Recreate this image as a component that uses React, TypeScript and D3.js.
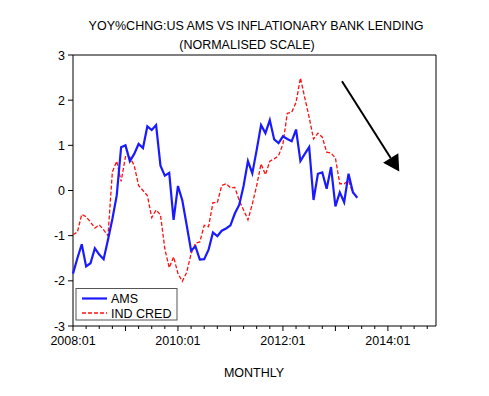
import React from 'react';
import * as d3 from 'd3';

const W = 489;
const H = 396;

// monthly series, first obs 2008:01
const amsValues = [
  -1.84, -1.5, -1.19, -1.68, -1.61, -1.28, -1.42, -1.52, -1.09, -0.63, -0.11, 0.96,
  1.0, 0.65, 0.81, 1.03, 0.94, 1.42, 1.34, 1.45, 0.55, 0.33, 0.39, -0.65,
  0.1, -0.22, -0.77, -1.33, -1.24, -1.53, -1.52, -1.31, -0.93, -1.01, -0.89, -0.84,
  -0.77, -0.51, -0.32, 0.1, 0.65, 0.38, 0.9, 1.45, 1.27, 1.56, 1.13, 1.05,
  1.2, 1.14, 1.09, 1.35, 0.65, 0.81, 0.96, -0.21, 0.37, 0.4, 0.04, 0.52,
  -0.35, -0.04, -0.26, 0.37, -0.04, -0.16,
];

const indCredValues = [
  -0.98, -0.92, -0.53, -0.58, -0.7, -0.83, -0.76, -0.87, -1.0, 0.41, 0.65, 0.2,
  0.75, 0.74, 0.55, 0.11, 0.0, -0.11, -0.6, -0.43, -0.54, -1.29, -1.71, -1.47,
  -1.84, -2.01, -1.81, -1.4, -1.17, -1.14, -0.77, -0.8, -0.27, -0.27, 0.11, 0.15,
  0.06, 0.07, -0.22, -0.43, -0.65, -0.3, 0.11, 0.59, 0.35, 0.65, 0.7, 0.77,
  1.03, 1.71, 1.73, 1.95, 2.49, 2.05, 1.62, 1.14, 1.27, 1.18, 0.85, 0.83,
  0.72, 0.15, 0.15, 0.22, -0.06,
];

const yTicks = [3, 2, 1, 0, -1, -2, -3];
const xTickLabels = ['2008:01', '2010:01', '2012:01', '2014:01'];
const xTickIndex = [0, 24, 48, 72];
const seriesNames = ['AMS', 'IND CRED'];

// arrow annotation, in data units (month index, value)
const arrowFrom = [61.5, 2.42];
const arrowTo = [74.6, 0.42];

const FONT = "'Liberation Sans', Arial, sans-serif";
const BLUE = '#1a1aff';
const RED = '#ff1010';

export default function App() {
  const x = d3.scaleLinear().domain([0, 83]).range([73, 436]);
  const y = d3.scaleLinear().domain([-3, 3]).range([326, 55]);

  const line = d3
    .line<number>()
    .x((_, i) => x(i))
    .y((d) => y(d));

  const minor = d3.range(0, 84, 3);

  const ax0 = x(arrowFrom[0]);
  const ay0 = y(arrowFrom[1]);
  const ax1 = x(arrowTo[0]);
  const ay1 = y(arrowTo[1]);
  const ang = Math.atan2(ay1 - ay0, ax1 - ax0);
  const headLen = 16;
  const headW = 9;
  const bx = ax1 - headLen * Math.cos(ang);
  const by = ay1 - headLen * Math.sin(ang);
  const head = [
    [ax1, ay1],
    [bx + headW * Math.sin(ang), by - headW * Math.cos(ang)],
    [bx - headW * Math.sin(ang), by + headW * Math.cos(ang)],
  ];

  return (
    <svg
      width={W}
      height={H}
      style={{ position: 'absolute', left: 0, top: 0, background: '#fff' }}
      fontFamily={FONT}
    >
      <text x={256} y={30} textAnchor="middle" fontSize={12.5} fill="#000">
        YOY%CHNG:US AMS VS INFLATIONARY BANK LENDING
      </text>
      <text x={247} y={49} textAnchor="middle" fontSize={12.5} fill="#000">
        (NORMALISED SCALE)
      </text>

      {/* frame */}
      <line x1={x(83)} x2={x(83)} y1={y(3)} y2={y(-3)} stroke="#808080" strokeWidth={2} />
      <line x1={x(0)} x2={x(83)} y1={y(3)} y2={y(3)} stroke="#000" strokeWidth={1} />
      <line x1={x(0)} x2={x(0)} y1={y(3)} y2={y(-3)} stroke="#000" strokeWidth={1} />
      <line x1={x(0)} x2={x(83)} y1={y(-3)} y2={y(-3)} stroke="#000" strokeWidth={1} />

      {yTicks.map((t) => (
        <g key={t}>
          <line x1={x(0) - 5} x2={x(0)} y1={y(t)} y2={y(t)} stroke="#000" />
          <text x={x(0) - 8} y={y(t) + 4.5} textAnchor="end" fontSize={12.5} fill="#000">
            {t}
          </text>
        </g>
      ))}

      {minor.map((m) => (
        <line
          key={m}
          x1={x(m)}
          x2={x(m)}
          y1={y(-3)}
          y2={y(-3) + (m % 12 === 0 ? 5 : 3)}
          stroke="#000"
        />
      ))}
      {xTickLabels.map((l, i) => (
        <text key={l} x={x(xTickIndex[i])} y={345} textAnchor="middle" fontSize={12.5} fill="#000">
          {l}
        </text>
      ))}
      <text x={254} y={377} textAnchor="middle" fontSize={12.5} fill="#000">
        MONTHLY
      </text>

      <path d={line(indCredValues) || ''} fill="none" stroke={RED} strokeWidth={1.3} strokeDasharray="4,2" />
      <path d={line(amsValues) || ''} fill="none" stroke={BLUE} strokeWidth={2.2} />

      {/* arrow */}
      <line x1={ax0} y1={ay0} x2={bx} y2={by} stroke="#000" strokeWidth={2} />
      <polygon points={head.map((p) => p.join(',')).join(' ')} fill="#000" />

      {/* legend */}
      <rect x={76} y={288.5} width={101} height={31.5} fill="#fff" stroke="#555" strokeWidth={1} />
      <line x1={82} x2={107} y1={298.5} y2={298.5} stroke={BLUE} strokeWidth={2.2} />
      <line x1={82} x2={107} y1={313} y2={313} stroke={RED} strokeWidth={1.3} strokeDasharray="4,2" />
      <text x={111} y={303} fontSize={12.5} fill="#000">{seriesNames[0]}</text>
      <text x={111} y={318} fontSize={12.5} fill="#000">{seriesNames[1]}</text>
    </svg>
  );
}
